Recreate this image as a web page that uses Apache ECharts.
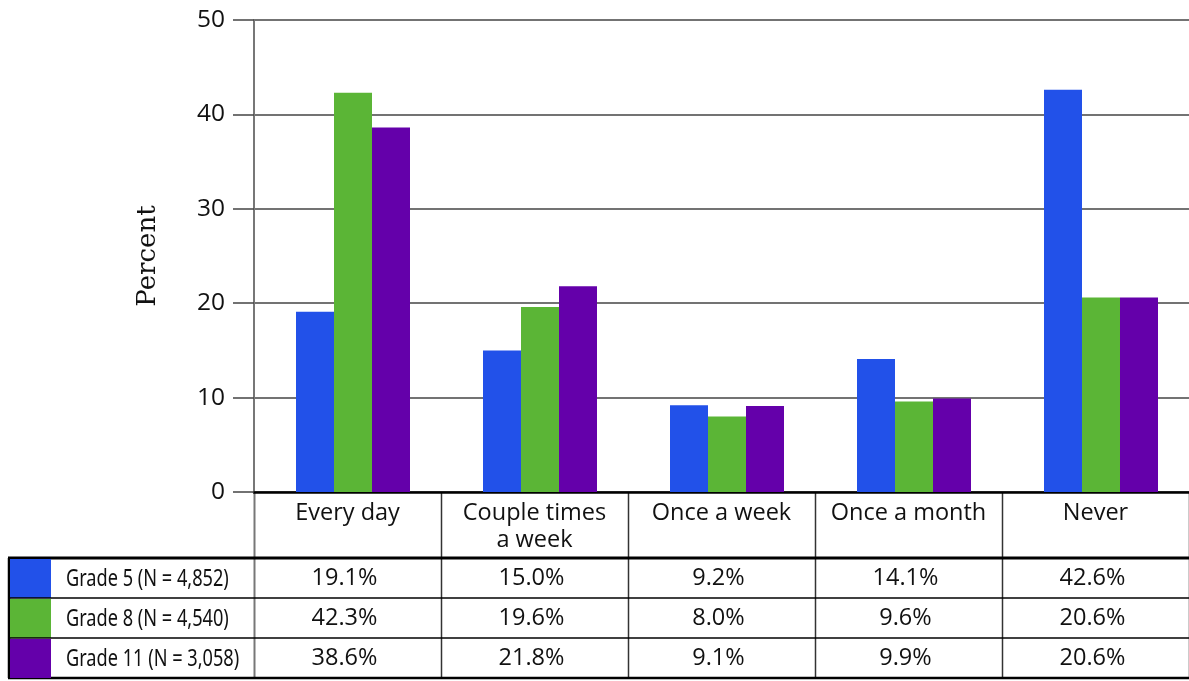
<!DOCTYPE html>
<html>
<head>
<meta charset="utf-8">
<script src="https://cdn.jsdelivr.net/npm/echarts@6/dist/echarts.min.js"></script>
<style>
  html, body { margin: 0; padding: 0; background: #fff; }
  #view1 { width: 1189px; height: 681px; }
</style>
</head>
<body>
<div id="view1"></div>
<script>
var categories = ["Every day", "Couple times\na week", "Once a week", "Once a month", "Never"];
var seriesNames = ["Grade 5 (N = 4,852)", "Grade 8 (N = 4,540)", "Grade 11 (N = 3,058)"];
var grade5 = [19.1, 15.0, 9.2, 14.1, 42.6];
var grade8 = [42.3, 19.6, 8.0, 9.6, 20.6];
var grade11 = [38.6, 21.8, 9.1, 9.9, 20.6];
var colors = ["#2251e9", "#5bb536", "#6400aa"];

var numFont = "'Open Sans', 'Noto Sans', sans-serif";

var option = {
  animation: false,
  grid: {
    left: 254,
    right: 0,
    top: 20,
    bottom: 189
  },
  xAxis: {
    type: "category",
    data: categories,
    axisLine: { lineStyle: { color: "#000", width: 2.5 } },
    axisTick: { show: false },
    axisLabel: {
      color: "#111",
      fontFamily: numFont,
      fontSize: 23.5,
      lineHeight: 27,
      margin: 8,
      interval: 0
    }
  },
  yAxis: {
    type: "value",
    min: 0,
    max: 50,
    interval: 10,
    name: "Percent",
    nameLocation: "middle",
    nameGap: 93,
    nameRotate: 90,
    nameTextStyle: {
      color: "#111",
      fontFamily: "'DejaVu Serif', 'Liberation Serif', serif",
      fontSize: 26
    },
    axisLine: { show: true, lineStyle: { color: "#777", width: 2 } },
    axisTick: { show: true, length: 21, lineStyle: { color: "#444", width: 1.5 } },
    axisLabel: {
      color: "#111",
      fontFamily: numFont,
      fontSize: 24.5,
      margin: 29
    },
    splitLine: { lineStyle: { color: "#444", width: 1.5 } }
  },
  series: [
    // empty spacer: the reference groups sit a little right of the band centre
    { type: "bar", data: categories.map(function () { return 0; }), barWidth: 11, barGap: "0%", itemStyle: { color: "rgba(0,0,0,0)" }, silent: true },
    { name: seriesNames[0], type: "bar", data: grade5, barWidth: 38, barGap: "0%", itemStyle: { color: colors[0] } },
    { name: seriesNames[1], type: "bar", data: grade8, barWidth: 38, barGap: "0%", itemStyle: { color: colors[1] } },
    { name: seriesNames[2], type: "bar", data: grade11, barWidth: 38, barGap: "0%", itemStyle: { color: colors[2] } }
  ]
};

var chart = echarts.init(document.getElementById("view1"));
chart.setOption(option);

// data table under the chart, aligned to the category bands
var c0 = chart.convertToPixel({ xAxisIndex: 0 }, 0);
var band = chart.convertToPixel({ xAxisIndex: 0 }, 1) - c0;
var y0 = chart.convertToPixel({ yAxisIndex: 0 }, 0);
var tableTop = 558;
var rowH = 40;
var tableLeft = 8;
var swatchW = 41;
var tableRight = 1189;
var rows = [grade5, grade8, grade11];
var tableBottom = tableTop + rowH * rows.length;

var g = [];
for (var i = 0; i <= categories.length; i++) {
  var x = Math.round(c0 - band / 2 + i * band) + 0.5;
  g.push({
    type: "line",
    shape: { x1: x, y1: y0, x2: x, y2: tableBottom },
    style: { stroke: i === 0 ? "#777" : "#333", lineWidth: i === 0 ? 2 : 1.5 }
  });
}
g.push({ type: "line", shape: { x1: tableLeft, y1: tableTop, x2: tableRight, y2: tableTop }, style: { stroke: "#000", lineWidth: 3 } });
g.push({ type: "line", shape: { x1: tableLeft, y1: tableBottom, x2: tableRight, y2: tableBottom }, style: { stroke: "#000", lineWidth: 2.5 } });
g.push({ type: "line", shape: { x1: tableLeft + 1, y1: tableTop, x2: tableLeft + 1, y2: tableBottom }, style: { stroke: "#000", lineWidth: 2.5 } });
for (var r = 0; r < rows.length; r++) {
  var ry = tableTop + r * rowH;
  if (r > 0) {
    g.push({ type: "line", shape: { x1: tableLeft, y1: ry, x2: tableRight, y2: ry }, style: { stroke: "#000", lineWidth: 1.5 } });
  }
  g.push({ type: "rect", shape: { x: tableLeft + 2, y: ry + 1, width: swatchW, height: rowH - 1 }, style: { fill: colors[r] } });
  g.push({
    type: "text",
    x: 66, y: ry + rowH / 2 + 1,
    scaleX: 0.79,
    style: { text: seriesNames[r], font: "23px 'Noto Sans', sans-serif", fill: "#111", textAlign: "left", textVerticalAlign: "middle" }
  });
  for (var c = 0; c < categories.length; c++) {
    g.push({
      type: "text",
      x: c0 + c * band - 3, y: ry + rowH / 2,
      style: { text: rows[r][c].toFixed(1) + "%", font: "23.5px " + numFont, fill: "#111", textAlign: "center", textVerticalAlign: "middle" }
    });
  }
}
chart.setOption({ graphic: g });
</script>
</body>
</html>
